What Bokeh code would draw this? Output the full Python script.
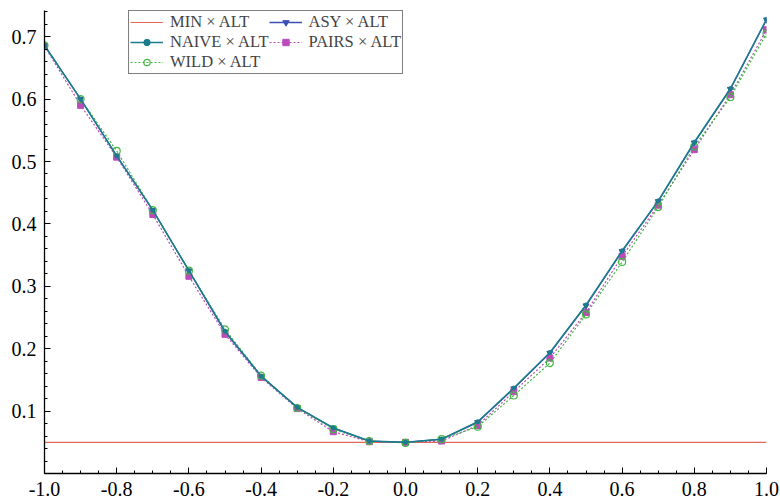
from bokeh.plotting import figure
from bokeh.models import Range1d, FixedTicker, Legend, LegendItem
from bokeh.embed import file_html
from bokeh.resources import INLINE

x = [-1.0, -0.9, -0.8, -0.7, -0.6, -0.5, -0.4, -0.3, -0.2, -0.1, 0.0,
     0.1, 0.2, 0.3, 0.4, 0.5, 0.6, 0.7, 0.8, 0.9, 1.0]
min_alt = [0.05] * 21
naive_alt = [0.686, 0.600, 0.509, 0.422, 0.325, 0.228, 0.156, 0.106, 0.073, 0.052, 0.050,
             0.055, 0.083, 0.137, 0.194, 0.270, 0.357, 0.437, 0.531, 0.617, 0.728]
asy_alt = [0.686, 0.600, 0.509, 0.422, 0.325, 0.227, 0.156, 0.106, 0.073, 0.052, 0.050,
           0.055, 0.082, 0.136, 0.193, 0.269, 0.356, 0.436, 0.530, 0.616, 0.727]
pairs_alt = [0.685, 0.590, 0.507, 0.415, 0.316, 0.223, 0.154, 0.104, 0.067, 0.051, 0.050,
             0.052, 0.077, 0.131, 0.185, 0.258, 0.348, 0.430, 0.519, 0.607, 0.711]
wild_alt = [0.686, 0.600, 0.517, 0.422, 0.325, 0.231, 0.157, 0.105, 0.071, 0.052, 0.049,
            0.055, 0.075, 0.125, 0.177, 0.255, 0.339, 0.427, 0.524, 0.603, 0.705]

labels = ["MIN \u00d7 ALT", "ASY \u00d7 ALT", "NAIVE \u00d7 ALT", "PAIRS \u00d7 ALT", "WILD \u00d7 ALT"]
x_ticks = [-1.0, -0.8, -0.6, -0.4, -0.2, 0.0, 0.2, 0.4, 0.6, 0.8, 1.0]
y_ticks = [0.1, 0.2, 0.3, 0.4, 0.5, 0.6, 0.7]

FONT = "Liberation Serif"

p = figure(width=780, height=498, output_backend="svg", toolbar_location=None,
           x_range=Range1d(-1.0, 1.0), y_range=Range1d(0.0, 0.742),
           min_border_left=44, min_border_right=14, min_border_top=10, min_border_bottom=24)
p.outline_line_color = None
p.grid.visible = False
p.background_fill_color = "white"

c_min = "#e5675c"
c_naive = "#1a7c8c"
c_asy = "#3d4fb5"
c_pairs = "#bb4bbb"
c_wild = "#3fb83f"

r_min = p.line(x, min_alt, line_color=c_min, line_width=1.2)
r_asy_l = p.line(x, asy_alt, line_color=c_asy, line_width=1.3)
r_asy_m = p.scatter(x, asy_alt, marker="inverted_triangle", size=6, fill_color=c_asy, line_color=c_asy)
r_pairs_l = p.line(x, pairs_alt, line_color=c_pairs, line_width=1.2, line_dash="2 2")
r_pairs_m = p.scatter(x, pairs_alt, marker="square", size=6, fill_color=c_pairs, line_color=c_pairs)
r_wild_l = p.line(x, wild_alt, line_color=c_wild, line_width=1.2, line_dash="2 2")
r_wild_m = p.scatter(x, wild_alt, marker="circle", size=7, fill_color=None, line_color=c_wild, line_width=1.2)
r_naive_l = p.line(x, naive_alt, line_color=c_naive, line_width=1.5)
r_naive_m = p.scatter(x, naive_alt, marker="circle", size=4, fill_color=c_naive, line_color=c_naive)

items = [
    LegendItem(label=labels[0], renderers=[r_min]),
    LegendItem(label=labels[2], renderers=[r_naive_l, r_naive_m]),
    LegendItem(label=labels[4], renderers=[r_wild_l, r_wild_m]),
    LegendItem(label=labels[1], renderers=[r_asy_l, r_asy_m]),
    LegendItem(label=labels[3], renderers=[r_pairs_l, r_pairs_m]),
]
legend = Legend(items=items, location=(84, 399), nrows=3,
                label_text_font=FONT, label_text_font_size="16.5px",
                label_height=16, glyph_height=16, glyph_width=33,
                label_standoff=7, spacing=0, padding=1, margin=0,
                border_line_color="black", border_line_width=1.2,
                background_fill_alpha=1.0)
p.add_layout(legend, "center")

for ax in (p.xaxis[0], p.yaxis[0]):
    ax.axis_line_color = "black"
    ax.axis_line_width = 1.3
    ax.major_tick_in = 6
    ax.major_tick_out = 0
    ax.minor_tick_in = 3
    ax.minor_tick_out = 0
    ax.major_tick_line_color = "black"
    ax.minor_tick_line_color = "black"
    ax.major_label_text_font = FONT
    ax.major_label_text_font_size = "20px"
    ax.major_label_text_color = "black"

p.xaxis[0].ticker = FixedTicker(ticks=x_ticks,
                                minor_ticks=[round(-1.0 + 0.05 * i, 2) for i in range(41)])
p.yaxis[0].ticker = FixedTicker(ticks=y_ticks,
                                minor_ticks=[round(0.02 * i, 2) for i in range(38)])
p.xaxis[0].major_label_overrides = {t: f"{t:.1f}" for t in x_ticks}
p.yaxis[0].major_label_overrides = {t: f"{t:.1f}" for t in y_ticks}
p.xaxis[0].major_label_standoff = 8
p.yaxis[0].major_label_standoff = 8

open("out.html", "w").write(file_html(p, INLINE))
